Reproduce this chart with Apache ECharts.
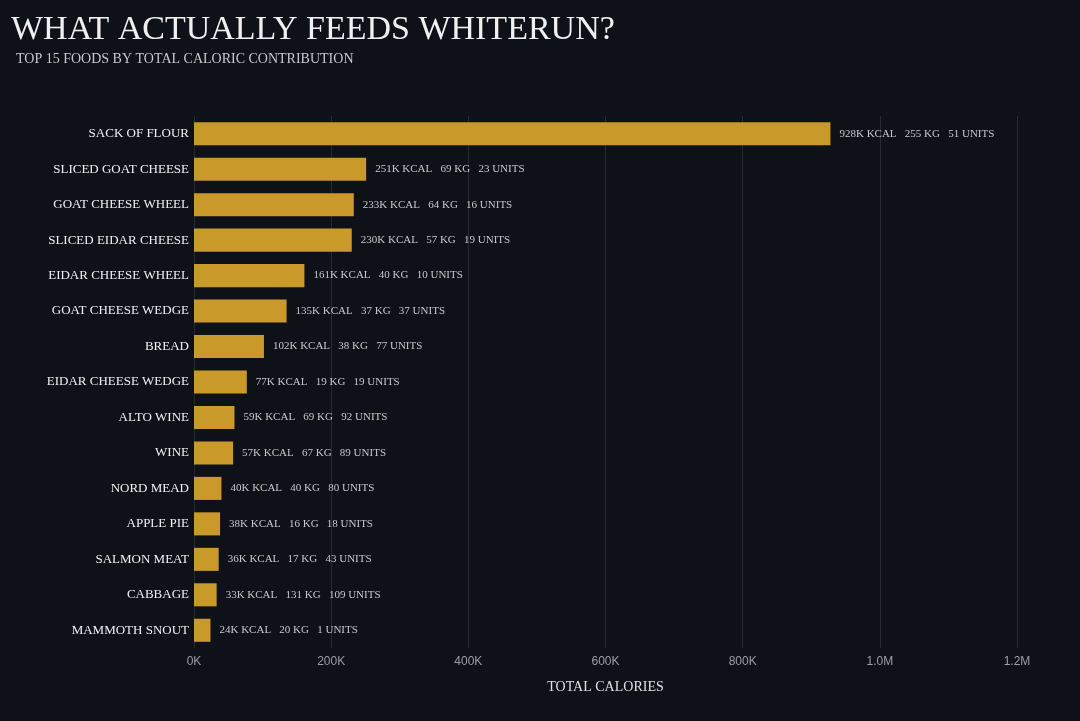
<!DOCTYPE html>
<html><head><meta charset="utf-8">
<script src="https://cdn.jsdelivr.net/npm/echarts@6/dist/echarts.min.js"></script>
<style>html,body{margin:0;padding:0;background:#0e1117;}#c{width:1080px;height:721px;}</style>
</head><body><div id="c"></div>
<script>
const categories = ["Sack of Flour","Sliced Goat Cheese","Goat Cheese Wheel","Sliced Eidar Cheese","Eidar Cheese Wheel","Goat Cheese Wedge","Bread","Eidar Cheese Wedge","Alto Wine","Wine","Nord Mead","Apple Pie","Salmon Meat","Cabbage","Mammoth Snout"];
const calories = [928000,251000,233000,230000,161000,135000,102000,77000,59000,57000,40000,38000,36000,33000,24000];
const kg = [255,69,64,57,40,37,38,19,69,67,40,16,17,131,20];
const units = [51,23,16,19,10,37,77,19,92,89,80,18,43,109,1];
const xTicks = {0:"0K",200000:"200K",400000:"400K",600000:"600K",800000:"800K",1000000:"1.0M",1200000:"1.2M"};
const serif = "'Liberation Serif','DejaVu Serif',serif";
const chart = echarts.init(document.getElementById('c'));
chart.setOption({
  backgroundColor:'#0e1117',
  animation:false,
  title:[
    {text:'WHAT ACTUALLY FEEDS WHITERUN?',left:6,top:8,textStyle:{color:'#f0f0f0',fontFamily:serif,fontSize:34,fontWeight:'normal'}},
    {text:'TOP 15 FOODS BY TOTAL CALORIC CONTRIBUTION',left:11,top:47,textStyle:{color:'#c8c8c8',fontFamily:serif,fontSize:14,fontWeight:'normal'}}
  ],
  grid:{left:194,right:63,top:116,bottom:73,containLabel:false},
  xAxis:{type:'value',min:0,max:1200000,interval:200000,
    name:'TOTAL CALORIES',nameLocation:'middle',nameGap:32,
    nameTextStyle:{color:'#e0e0e0',fontFamily:serif,fontSize:14},
    axisLabel:{color:'#9a9ea6',fontSize:12,formatter:v=>xTicks[v]},
    axisLine:{show:false},axisTick:{show:false},
    splitLine:{lineStyle:{color:'#262a33'}}},
  yAxis:{type:'category',data:categories.map(s=>s.toUpperCase()),inverse:true,
    axisLine:{show:false},axisTick:{show:false},
    axisLabel:{color:'#f0f0f0',fontFamily:serif,fontSize:13,margin:5}},
  series:[{type:'bar',data:calories,barWidth:'65%',
    itemStyle:{color:'#c99a2a'},
    label:{show:true,position:'right',distance:9,color:'#c8c8c8',fontFamily:serif,fontSize:11,
      formatter:p=>Math.round(calories[p.dataIndex]/1000)+'K KCAL   '+kg[p.dataIndex]+' KG   '+units[p.dataIndex]+' UNITS'}}]
});
</script></body></html>
